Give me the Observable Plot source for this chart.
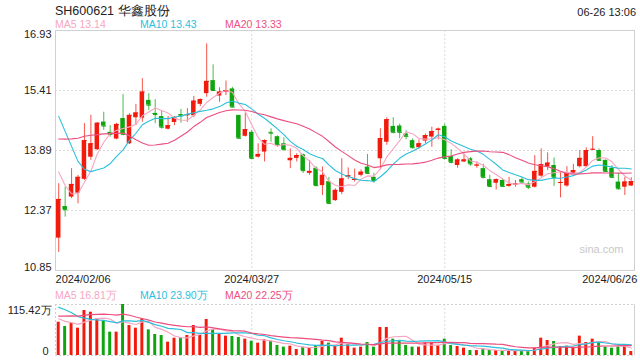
<!DOCTYPE html>
<html><head><meta charset="utf-8">
<script src="https://cdn.jsdelivr.net/npm/d3@7"></script>
<script src="https://cdn.jsdelivr.net/npm/@observablehq/plot@0.6"></script>
<style>
body{margin:0;background:#fff;font-family:"Liberation Sans",Arial,sans-serif;}
#wrap{position:relative;width:640px;height:360px;overflow:hidden;background:#fff;}
.t{position:absolute;white-space:nowrap;line-height:1;}
#wrap svg{position:absolute;left:0;overflow:visible;}
</style></head><body><div id="wrap"></div>
<script>
const stockTitle = "SH600621 华鑫股份";
const timeStamp = "06-26 13:06";
const maNames = ["MA5", "MA10", "MA20"];
const maPeriods = [5, 10, 20];
const priceMaLast = [13.14, 13.43, 13.33];
const volMaLast = [16.81, 23.90, 22.25];
const yTicks = [10.85, 12.37, 13.89, 15.41, 16.93];
const volTop = 115.42;
const volTopLabel = "115.42万";
const tickIdx = [0, 30, 60, 89];
const tickLabels = ["2024/02/06", "2024/03/27", "2024/05/15", "2024/06/26"];

// closes / volumes before the first visible day (only feed the moving averages)
const priorClose = [12.45, 12.89, 12.87, 13.20, 13.52, 14.24, 14.17, 14.16, 14.41, 14.16,
  16.19, 16.83, 17.01, 16.14, 14.66, 14.09, 14.08, 13.21, 12.69];
const priorVolume = [60, 65, 70, 62, 75, 68, 72, 66, 78, 74, 120, 140, 150, 135, 130, 95, 88, 80, 77];

const openP = [11.67,12.47,12.71,12.81,13.16,13.72,13.91,14.61,14.35,14.18,
  14.70,14.06,14.72,14.71,15.16,14.83,14.75,14.43,14.60,14.80,
  14.77,14.77,15.06,15.33,15.66,15.27,15.36,15.45,14.78,14.25,
  14.35,13.72,13.85,14.35,14.24,14.06,13.63,13.69,13.78,13.31,
  13.44,13.00,13.10,12.62,12.83,13.21,13.13,13.26,13.47,13.21,
  13.68,14.10,14.50,14.51,14.31,14.14,13.96,14.13,14.23,14.40,
  14.50,13.74,13.51,13.60,13.68,13.50,13.43,13.15,13.06,13.13,
  12.98,13.02,13.15,13.04,12.96,13.24,13.47,13.51,13.06,12.99,
  13.31,13.48,13.48,13.91,13.89,13.64,13.44,13.09,12.96,12.99];
const highP = [13.05,12.96,13.43,13.26,14.57,14.78,14.60,14.86,14.52,14.58,
  15.31,14.82,15.06,15.71,15.33,15.18,14.90,14.75,14.75,14.93,
  14.95,15.26,15.20,16.59,16.06,15.48,15.65,15.49,14.78,14.84,
  14.40,14.06,14.16,14.44,14.26,14.21,13.93,13.81,13.80,13.64,
  13.48,13.47,13.21,12.92,13.68,13.45,13.42,13.40,13.79,13.31,
  14.44,14.72,14.72,14.56,14.39,14.18,14.16,14.31,14.48,14.46,
  14.56,13.91,13.68,13.80,13.71,13.60,13.54,13.26,13.17,13.17,
  13.21,13.13,13.21,13.09,13.76,13.93,13.83,13.70,13.34,13.48,
  13.54,13.89,13.96,14.24,13.93,13.65,13.51,13.31,13.21,13.20];
const lowP = [11.31,12.20,12.67,12.54,13.13,13.64,13.89,14.40,14.23,14.16,
  14.26,14.04,14.52,14.61,14.90,14.57,14.43,14.41,14.52,14.58,
  14.60,14.72,15.00,15.24,15.39,15.11,15.28,14.97,14.18,14.23,
  13.66,13.70,13.60,14.10,13.97,13.89,13.43,13.60,13.31,13.26,
  12.97,12.75,12.52,12.60,12.77,13.15,13.09,13.22,13.28,13.06,
  13.40,14.02,14.31,14.19,14.16,13.93,13.93,14.06,13.97,14.16,
  13.65,13.55,13.44,13.58,13.49,13.44,13.17,12.96,12.89,12.96,
  12.96,12.96,13.06,12.90,12.94,13.21,13.38,12.98,12.69,12.96,
  13.28,13.45,13.47,13.89,13.62,13.34,13.19,12.89,12.75,12.98];
const closeP = [12.65,12.39,13.03,13.21,14.14,14.06,14.58,14.51,14.30,14.55,
  14.30,14.78,14.84,15.37,15.04,14.80,14.48,14.52,14.71,14.77,
  14.80,15.14,15.18,15.64,15.41,15.37,15.41,14.99,14.20,14.42,
  13.69,13.79,14.14,14.33,14.04,13.91,13.69,13.76,13.38,13.36,
  13.00,13.26,12.55,12.88,13.17,13.25,13.16,13.34,13.31,13.13,
  14.19,14.67,14.35,14.35,14.25,13.96,14.06,14.27,14.37,14.43,
  13.69,13.59,13.65,13.65,13.55,13.52,13.21,12.98,13.15,12.98,
  13.03,13.04,13.09,12.96,13.36,13.53,13.57,13.21,13.08,13.31,
  13.38,13.69,13.89,13.92,13.64,13.36,13.21,12.92,13.09,13.10];
// volume in 万
const volume = [75.4,65.6,73.1,61.8,101.8,98,83,77.7,52.8,52.8,
  115.42,67.9,61.8,83,58.1,47.5,45.3,30.2,39.2,40,
  45.3,67.9,45.3,81.5,58.8,47.5,43.8,43,40.7,37,
  32.4,27.9,35.5,32.4,22.6,18.9,21.1,13.6,18.9,17.4,
  22.6,31.7,27.9,21.1,39.2,24.1,16.6,18.9,29.4,18.9,
  63.4,63.4,37,31.7,22.6,18.9,18.9,28.7,27.9,22.6,
  37,22.6,20.4,16.6,11.3,11.3,15.1,11.3,11.3,9,
  11.3,11.3,11.3,10,16.6,39.2,34,31.7,20.4,21.1,
  18.9,43.8,29.4,37,27.9,18.9,16.6,18.9,21.1,9];

const RED = "#f21a0c", GREEN = "#0ea50e";
const maColors = ["#f7a6c1", "#2bbfdc", "#ec4f7f"];

const N = closeP.length;
const P = priorClose.length;
const idx = d3.range(N);
const allClose = priorClose.concat(closeP);
const allVol = priorVolume.concat(volume);
const ma = (arr, k) => idx.map(i => ({i, v: d3.mean(arr.slice(P + i - k + 1, P + i + 1))}));
const candles = idx.map(i => ({i, o: openP[i], h: highP[i], l: lowP[i], c: closeP[i], v: volume[i],
  col: closeP[i] >= openP[i] ? RED : GREEN}));

const wrap = document.getElementById("wrap");
function addText(txt, left, top, size, color, right) {
  const s = document.createElement("div");
  s.className = "t"; s.textContent = txt;
  s.style.top = top + "px"; s.style.fontSize = size + "px"; s.style.color = color;
  if (right != null) s.style.right = right + "px"; else s.style.left = left + "px";
  wrap.appendChild(s);
}
const legendX = [55, 140, 225];

const xDomain = [-0.5, N - 0.5];
const dash = "2,2";
const grid = "#dcdcdc";

const main = Plot.plot({
  width: 640, height: 290,
  marginTop: 30, marginBottom: 20, marginLeft: 55, marginRight: 6,
  style: {fontFamily: "Liberation Sans, Arial, sans-serif", fontSize: "11px", color: "#222", background: "transparent"},
  x: {domain: xDomain, axis: null},
  y: {domain: [yTicks[0], yTicks[yTicks.length - 1]], axis: null},
  color: {type: "identity"},
  marks: [
    Plot.ruleY(yTicks.slice(1, -1), {stroke: grid, strokeDasharray: dash}),
    Plot.ruleX(tickIdx.slice(1, -1), {stroke: grid, strokeDasharray: dash}),
    Plot.frame({stroke: "#d0d0d0"}),
    Plot.text(["sina.com"], {frameAnchor: "bottom-right", dx: -11, dy: -21, lineAnchor: "middle", fill: "#c8c8c8", fontSize: 11}),
    Plot.ruleX(candles, {x: "i", y1: "l", y2: "h", stroke: "col", strokeOpacity: 0.75}),
    Plot.rect(candles, {x1: d => d.i - 0.35, x2: d => d.i + 0.35, y1: "o", y2: "c", fill: "col"}),
    Plot.link(candles, {x1: d => d.i - 0.35, x2: d => d.i + 0.35, y1: "c", y2: "c", stroke: "col"}),
    ...maPeriods.map((k, j) => Plot.line(ma(allClose, k), {x: "i", y: "v", stroke: maColors[j], strokeWidth: 1.1})),
    Plot.text([yTicks[yTicks.length - 1]], {y: d => d, text: d => d.toFixed(2), frameAnchor: "left", textAnchor: "end", dx: -4, lineAnchor: "top", dy: 0, fill: "#222"}),
    Plot.text(yTicks.slice(1, -1), {y: d => d, text: d => d.toFixed(2), frameAnchor: "left", textAnchor: "end", dx: -4, lineAnchor: "middle", fill: "#222"}),
    Plot.text([yTicks[0]], {y: d => d, text: d => d.toFixed(2), frameAnchor: "left", textAnchor: "end", dx: -4, lineAnchor: "bottom", dy: 0, fill: "#222"}),
    Plot.text([0], {x: d => tickIdx[d], text: d => tickLabels[d], frameAnchor: "bottom", dx: -3.2, dy: 9, lineAnchor: "middle", textAnchor: "start", fill: "#222"}),
    Plot.text([1, 2], {x: d => tickIdx[d], text: d => tickLabels[d], frameAnchor: "bottom", dy: 9, lineAnchor: "middle", textAnchor: "middle", fill: "#222"}),
    Plot.text([3], {x: d => tickIdx[d], text: d => tickLabels[d], frameAnchor: "bottom", dx: 6, dy: 9, lineAnchor: "middle", textAnchor: "end", fill: "#222"})
  ]
});
main.style.top = "0px";
wrap.appendChild(main);

const vol = Plot.plot({
  width: 640, height: 70,
  marginTop: 14, marginBottom: 5, marginLeft: 55, marginRight: 6,
  style: {fontFamily: "Liberation Sans, Arial, sans-serif", fontSize: "11px", color: "#222", background: "transparent"},
  x: {domain: xDomain, axis: null},
  y: {domain: [0, volTop], axis: null},
  color: {type: "identity"},
  marks: [
    Plot.ruleY([volTop, 0], {stroke: "#cfcfcf", strokeDasharray: dash}),
    Plot.ruleX([xDomain[0]], {stroke: "#cfcfcf", strokeDasharray: dash}),
    Plot.ruleX(tickIdx.slice(1, -1), {stroke: grid, strokeDasharray: dash}),
    Plot.ruleX([xDomain[1]], {stroke: "#d0d0d0"}),
    Plot.rect(candles, {x1: d => d.i - 0.23, x2: d => d.i + 0.23, y1: 0, y2: "v", fill: "col"}),
    ...maPeriods.map((k, j) => Plot.line(ma(allVol, k), {x: "i", y: "v", stroke: maColors[j], strokeWidth: 1.2})),
    Plot.text([volTop], {y: d => d, text: [volTopLabel], frameAnchor: "left", textAnchor: "end", dx: -4, lineAnchor: "top", dy: 2, fill: "#222"}),
    Plot.text([0], {y: d => d, text: d => String(d), frameAnchor: "left", textAnchor: "end", dx: -7, lineAnchor: "bottom", dy: -1, fill: "#222"})
  ]
});
vol.style.top = "290px";
wrap.appendChild(vol);

addText(stockTitle, 55, 5, 12.5, "#222");
addText(timeStamp, 0, 6.5, 11, "#222", 4);
maNames.forEach((n, j) => addText(n + " " + priceMaLast[j].toFixed(2), legendX[j], 18.5, 10.5, maColors[j]));
maNames.forEach((n, j) => addText(n + " " + volMaLast[j].toFixed(2) + "万", legendX[j], 289.5, 10.5, maColors[j]));
</script></body></html>
